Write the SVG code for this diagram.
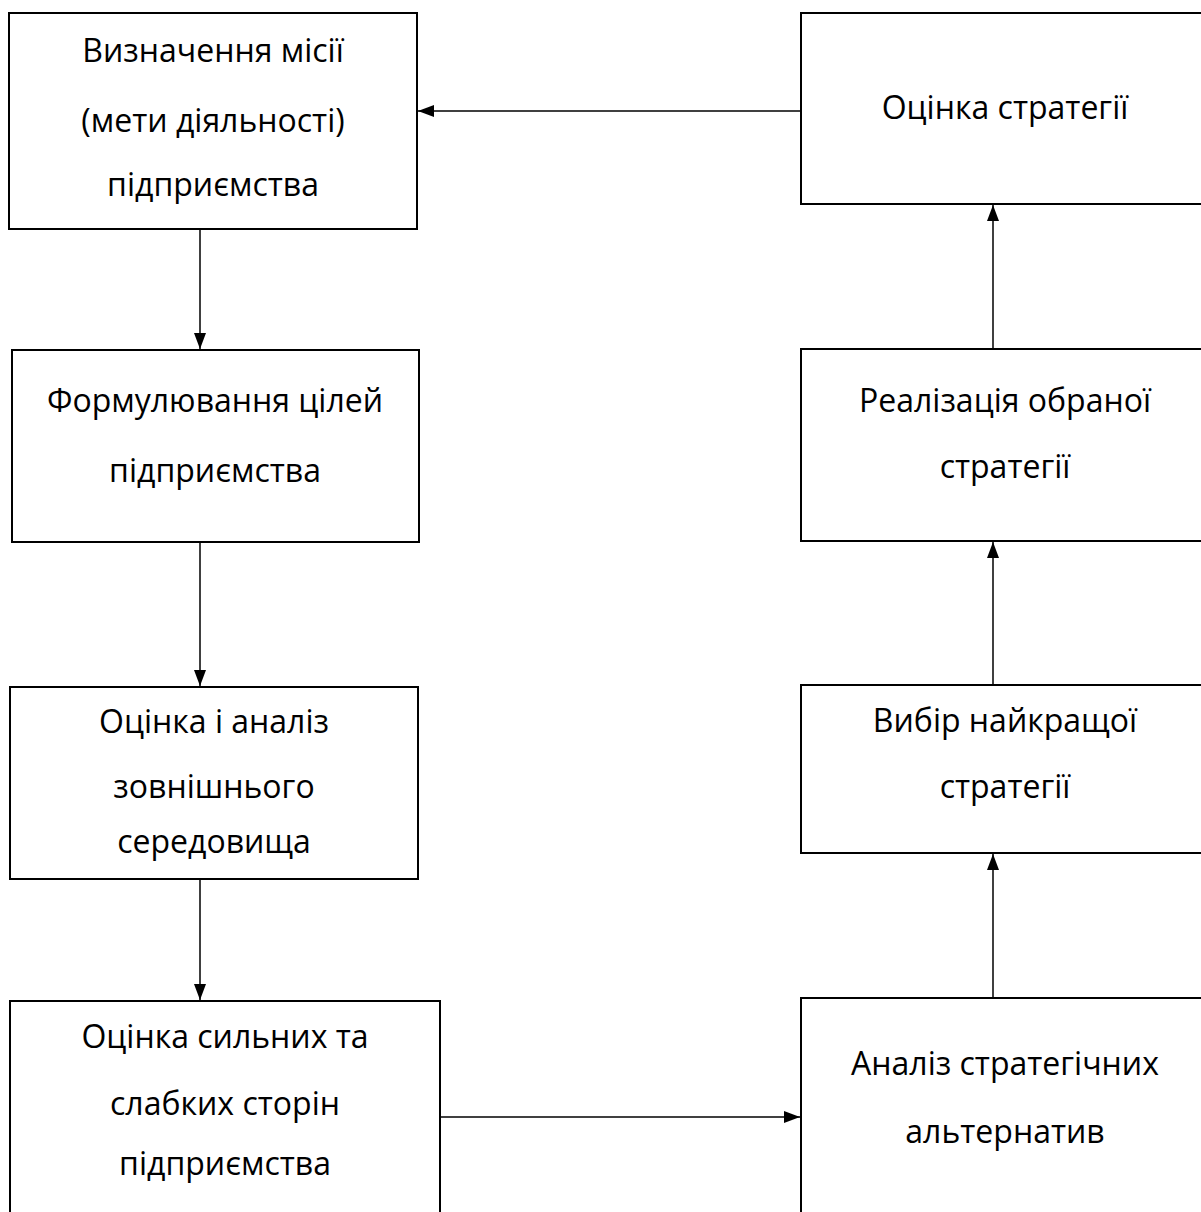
<svg xmlns="http://www.w3.org/2000/svg" width="1201" height="1212" viewBox="0 0 1201 1212">
<defs>
<style>
.box{fill:#fff;stroke:#000;stroke-width:2}
.t{font-family:"Open Sans","Liberation Sans",Arial,sans-serif;font-size:32px;fill:#000;text-anchor:middle}
.c{stroke:#000;stroke-width:1.5;fill:none}
</style>
<marker id="ah" viewBox="0 0 16 12" refX="16" refY="6" markerWidth="16" markerHeight="12" markerUnits="userSpaceOnUse" orient="auto">
<path d="M0,0 L16,6 L0,12 z" fill="#000"/>
</marker>
</defs>
<rect width="1201" height="1212" fill="#fff"/>
<g id="n1"><rect class="box" x="9" y="13" width="408" height="216"/>
<text class="t" x="213" y="62">Визначення місії</text>
<text class="t" x="213" y="132">(мети діяльності)</text>
<text class="t" x="213" y="196">підприємства</text></g>
<g id="n2"><rect class="box" x="12" y="350" width="407" height="192"/>
<text class="t" x="215" y="412">Формулювання цілей</text>
<text class="t" x="215" y="482">підприємства</text></g>
<g id="n3"><rect class="box" x="10" y="687" width="408" height="192"/>
<text class="t" x="214" y="733">Оцінка і аналіз</text>
<text class="t" x="214" y="798">зовнішнього</text>
<text class="t" x="214" y="853">середовища</text></g>
<g id="n4"><rect class="box" x="10" y="1001" width="430" height="230"/>
<text class="t" x="225" y="1048">Оцінка сильних та</text>
<text class="t" x="225" y="1115">слабких сторін</text>
<text class="t" x="225" y="1175">підприємства</text></g>
<g id="n5"><rect class="box" x="801" y="13" width="410" height="191"/>
<text class="t" x="1005" y="119">Оцінка стратегії</text></g>
<g id="n6"><rect class="box" x="801" y="349" width="410" height="192"/>
<text class="t" x="1005" y="412">Реалізація обраної</text>
<text class="t" x="1005" y="478">стратегії</text></g>
<g id="n7"><rect class="box" x="801" y="685" width="410" height="168"/>
<text class="t" x="1005" y="732">Вибір найкращої</text>
<text class="t" x="1005" y="798">стратегії</text></g>
<g id="n8"><rect class="box" x="801" y="998" width="410" height="230"/>
<text class="t" x="1005" y="1075">Аналіз стратегічних</text>
<text class="t" x="1005" y="1143">альтернатив</text></g>
<g id="connectors">
<path class="c" d="M200,229 V349" marker-end="url(#ah)"/>
<path class="c" d="M200,542 V686" marker-end="url(#ah)"/>
<path class="c" d="M200,879 V1000" marker-end="url(#ah)"/>
<path class="c" d="M440,1117 H800" marker-end="url(#ah)"/>
<path class="c" d="M993,998 V854" marker-end="url(#ah)"/>
<path class="c" d="M993,685 V542" marker-end="url(#ah)"/>
<path class="c" d="M993,349 V205" marker-end="url(#ah)"/>
<path class="c" d="M801,111 H418" marker-end="url(#ah)"/>
</g>
</svg>
